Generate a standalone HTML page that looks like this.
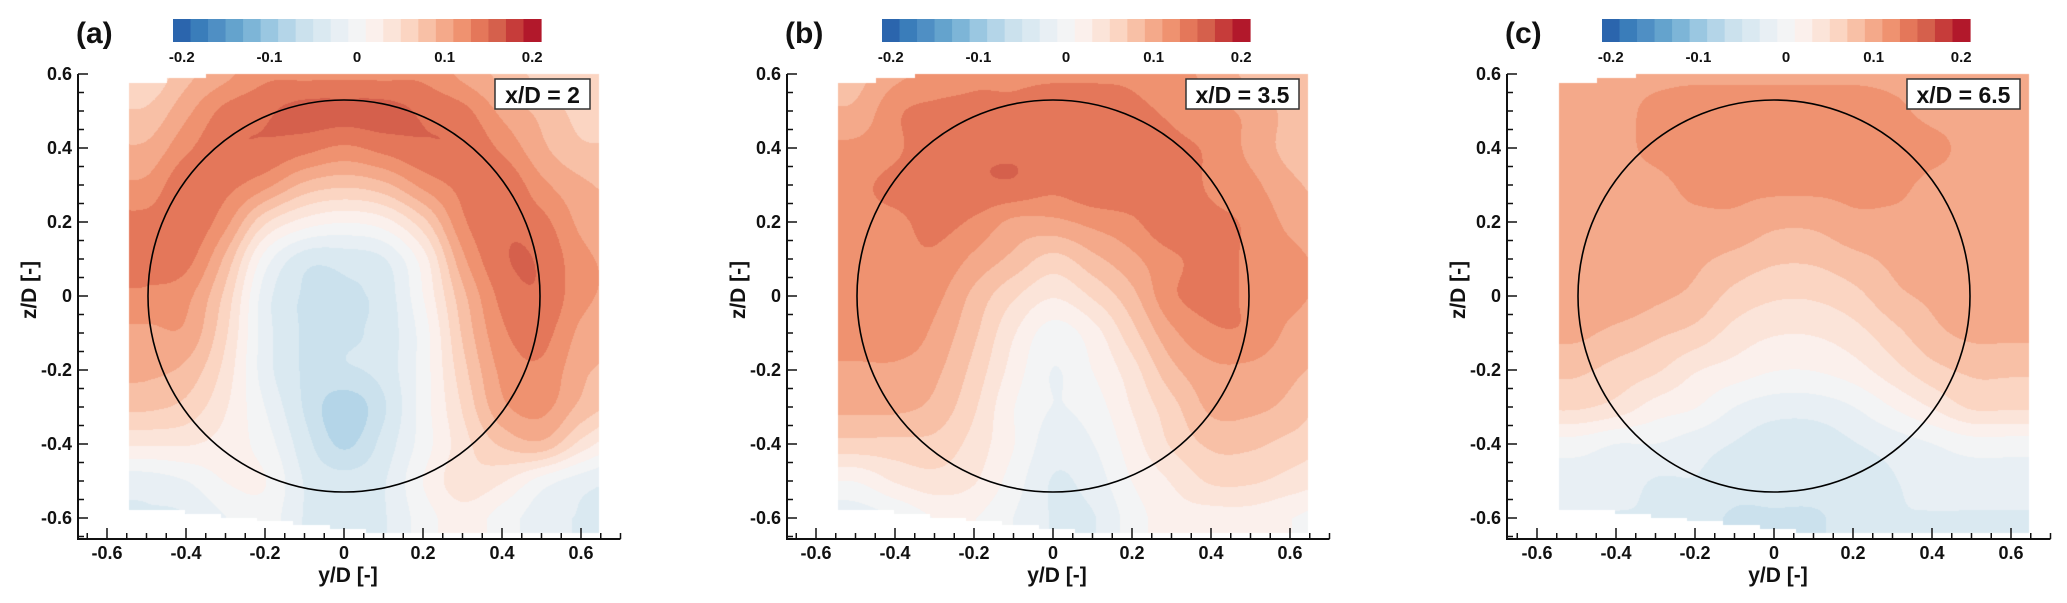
<!DOCTYPE html>
<html><head><meta charset="utf-8"><style>
html,body{margin:0;padding:0;background:#fff;}
#wrap{position:relative;width:2067px;height:603px;overflow:hidden;}
canvas,svg{position:absolute;left:0;top:0;}
text{font-family:"Liberation Sans",Arial,sans-serif;font-weight:bold;fill:#111;}
</style></head><body>
<div id="wrap">
<canvas id="cv" width="2067" height="603"></canvas>
<svg id="sv" width="2067" height="603"></svg>
</div>
<script>
// ---- data ----
const gridY = [-0.6,-0.5,-0.4,-0.3,-0.2,-0.1,0,0.1,0.2,0.3,0.4,0.5,0.6,0.7];
const gridZ = [0.6,0.5,0.4,0.3,0.2,0.1,0,-0.1,-0.2,-0.3,-0.4,-0.5,-0.6];
const panelLabels = ["(a)","(b)","(c)"];
const stationLabels = ["x/D = 2","x/D = 3.5","x/D = 6.5"];
const cbTicks = [-0.2,-0.1,0,0.1,0.2];
const cbTickLabels = ["-0.2","-0.1","0","0.1","0.2"];
const yTicks = [-0.6,-0.4,-0.2,0,0.2,0.4,0.6];
const yTickLabels = ["-0.6","-0.4","-0.2","0","0.2","0.4","0.6"];
const zTicks = [-0.6,-0.4,-0.2,0,0.2,0.4,0.6];
const zTickLabels = ["-0.6","-0.4","-0.2","0","0.2","0.4","0.6"];
const levelColors = ["#2b65ad","#3a7dba","#4f8fc4","#64a3cd","#7db5d7","#9ac7e1","#b4d5e8","#cbe1ed","#dae9f1","#e8eff4","#f3f4f5","#fbf0ec","#fbe4d9","#fbd5c2","#f8c0a6","#f4a98a","#ef9270","#e4775a","#d5604c","#c63c3a","#b2182b"];
// values x100
const fieldA = [
[5,5,8,10,12,12,12,12,12,10,8,6,5,5],
[7,7,10,13,14,15,15,15,14,13,10,8,6,6],
[9,9,12,14,14,13,12,13,14,14,12,9,7,7],
[11,11,14,13,11,8,7,8,11,13,14,11,9,8],
[13,13,14,11,5,2,1,2,6,12,14,13,10,9],
[13,13,13,8,0,-4,-4,-3,2,10,14,14,11,10],
[12,12,11,6,-2,-5,-5,-4,1,8,13,14,11,10],
[10,10,10,5,-2,-5,-5,-4,0,7,12,13,10,9],
[9,9,8,4,-2,-5,-5,-4,0,6,11,12,9,8],
[7,7,6,3,-1,-5,-8,-5,0,5,10,11,8,6],
[3,3,3,2,0,-4,-7,-4,0,4,7,8,4,1],
[-2,-2,-1,1,1,-3,-4,-3,1,4,3,0,-2,-3],
[-3,-3,-3,-1,0,-3,-4,-3,0,2,0,-2,-3,-3]];
const fieldB = [
[8,8,10,11,12,12,12,12,12,11,10,8,7,7],
[9,9,12,13,13,13,14,14,13,12,11,10,8,8],
[11,11,12,14,14,14,14,14,14,13,12,10,8,8],
[12,12,13,14,14,14,13,14,14,14,12,11,9,8],
[12,12,12,13,12,10,10,11,12,14,13,12,10,9],
[12,12,12,12,10,8,6,8,10,12,13,12,11,10],
[12,12,12,11,8,5,3,5,8,12,13,12,11,10],
[12,12,12,10,7,3,0,2,6,10,12,12,10,9],
[10,10,10,9,6,2,-1,1,4,8,10,10,9,8],
[9,9,9,8,5,1,-1,0,3,6,9,9,8,6],
[6,6,6,6,4,1,-2,-1,2,5,7,7,6,5],
[1,1,3,4,3,0,-3,-2,1,3,5,5,4,3],
[-2,-2,-1,1,1,-1,-3,-3,0,2,2,2,1,0]];
const fieldC = [
[10,10,10,10,10,10,10,10,10,10,10,10,10,10],
[10,10,10,11,12,12,12,12,12,11,10,10,10,10],
[10,10,10,11,12,12,12,12,12,12,11,10,10,10],
[10,10,10,10,11,11,11,11,11,11,10,10,10,10],
[10,10,10,10,10,10,9,9,10,10,10,10,10,10],
[10,10,10,10,9,8,7,7,8,9,10,10,10,10],
[10,10,10,9,8,6,5,5,6,8,9,10,10,10],
[9,9,8,7,6,4,3,3,4,6,8,9,9,9],
[7,7,6,5,3,2,1,1,2,4,6,7,7,7],
[5,5,4,2,1,-1,-2,-2,-1,1,3,5,5,5],
[0,0,-1,-1,-2,-3,-4,-4,-3,-2,-1,0,0,0],
[-2,-2,-2,-3,-3,-4,-4,-4,-4,-3,-2,-2,-2,-2],
[-3,-3,-3,-3,-4,-5,-5,-5,-4,-3,-3,-3,-3,-3]];
const fields = [fieldA, fieldB, fieldC];

// ---- layout ----
const axisX = [78, 787, 1507];
const zeroX = [344, 1053, 1774];
const SX = 395, SZ = 370, Z0 = 296;
function px(p,y){return zeroX[p]+y*SX;}
function py(z){return Z0 - z*SZ;}
function cr(p0,p1,p2,p3,t){return 0.5*((2*p1)+(-p0+p2)*t+(2*p0-5*p1+4*p2-p3)*t*t+(-p0+3*p1-3*p2+p3)*t*t*t);}
function g(f,i,j){i=Math.max(0,Math.min(f.length-1,i));j=Math.max(0,Math.min(f[0].length-1,j));return f[i][j];}
function val(f,y,z){
  let fj=(y-gridY[0])/0.1, fi=(gridZ[0]-z)/0.1;
  fj=Math.max(0,Math.min(gridY.length-1.0001,fj));
  fi=Math.max(0,Math.min(gridZ.length-1.0001,fi));
  const j=Math.floor(fj), i=Math.floor(fi), tx=fj-j, ty=fi-i;
  const rows=[];
  for(let k=-1;k<=2;k++){rows.push(cr(g(f,i+k,j-1),g(f,i+k,j),g(f,i+k,j+1),g(f,i+k,j+2),tx));}
  return cr(rows[0],rows[1],rows[2],rows[3],ty)/100;
}
function colorIdx(v){let k=Math.floor((v+0.2)/0.4*21);return Math.max(0,Math.min(20,k));}
function hex(h){return [parseInt(h.slice(1,3),16),parseInt(h.slice(3,5),16),parseInt(h.slice(5,7),16)];}
const rgb=levelColors.map(hex);
function topZ(y){return y<-0.45?0.576:(y<-0.35?0.59:0.6);}
function botZ(y){let t=Math.max(0,Math.min(1,(y+0.45)/0.55));t=Math.round(t*6)/6;return -0.578-0.062*t;}

const cv=document.getElementById('cv'),ctx=cv.getContext('2d');
const img=ctx.createImageData(2067,603);
for(let p=0;p<3;p++){
  const x0=Math.round(px(p,-0.545)),x1=Math.round(px(p,0.645));
  for(let X=x0;X<x1;X++){
    const y=(X-zeroX[p])/SX;
    const t=topZ(y),b=botZ(y);
    for(let Y=Math.round(py(t));Y<Math.round(py(b));Y++){
      const z=(Z0-Y)/SZ;
      const c=rgb[colorIdx(val(fields[p],y,z))];
      const o=(Y*2067+X)*4;
      img.data[o]=c[0];img.data[o+1]=c[1];img.data[o+2]=c[2];img.data[o+3]=255;
    }
  }
}
ctx.putImageData(img,0,0);

// ---- overlay ----
const NS='http://www.w3.org/2000/svg', sv=document.getElementById('sv');
function el(tag,attrs,txt){const e=document.createElementNS(NS,tag);for(const k in attrs)e.setAttribute(k,attrs[k]);if(txt!==undefined)e.textContent=txt;sv.appendChild(e);return e;}
const yBot=539, zTop=0.6;
for(let p=0;p<3;p++){
  const c=el('ellipse',{cx:zeroX[p],cy:Z0,rx:196,ry:196,fill:'none',stroke:'#000','stroke-width':1.6});
  
  
  const xr=px(p,0.7);
  const ax=el('path',{d:`M${axisX[p]},${py(zTop)} L${axisX[p]},${yBot} L${xr},${yBot}`,fill:'none',stroke:'#111','stroke-width':2});
  
  
  let d='';
  for(let k=-13;k<=12;k++){const z=k*0.05;const Y=py(z);const major=Math.abs(k%4)===0;d+=`M${axisX[p]},${Y} L${axisX[p]+(major?10:6)},${Y} `;}
  for(let k=-13;k<=14;k++){const y=k*0.05;const X=px(p,y);if(X<axisX[p])continue;const major=Math.abs(k%4)===0;d+=`M${X},${yBot} L${X},${yBot-(major?11:6)} `;}
  const tk=el('path',{d:d,stroke:'#111','stroke-width':1.5,fill:'none'});
  
  
  zTicks.forEach((z,i)=>{const t=el('text',{x:axisX[p]-6,y:py(z)+6,'text-anchor':'end','font-size':18},zTickLabels[i]);
    
    });
  yTicks.forEach((y,i)=>{const t=el('text',{x:px(p,y),y:559,'text-anchor':'middle','font-size':18},yTickLabels[i]);
    
    });
  const xt=el('text',{x:zeroX[p]+4,y:582,'text-anchor':'middle','font-size':21},'y/D [-]');
  
  
  const ytl=el('text',{x:0,y:0,'text-anchor':'middle','font-size':21,transform:`translate(${axisX[p]-42},290) rotate(-90)`},'z/D [-]');
  
  
  const pl=el('text',{x:axisX[p]-2,y:43,'font-size':30},panelLabels[p]);
  
  
  const cbx=axisX[p]+95, cbw=368, seg=cbw/21;
  levelColors.forEach((col,i)=>{const r=el('rect',{x:cbx+i*seg,y:19,width:seg+0.6,height:23,fill:col});
    
    });
  cbTicks.forEach((v,i)=>{const X=cbx+seg/2+(v+0.2)/0.4*(cbw-seg);
    const t=el('text',{x:X,y:62,'text-anchor':'middle','font-size':15},cbTickLabels[i]);
    
    });
  const bx0=zeroX[p]+(p===0?151:133), bx1=zeroX[p]+246;
  const bb=el('rect',{x:bx0,y:79,width:bx1-bx0,height:30,fill:'#fff',stroke:'#333','stroke-width':1.5});
  
  
  const st=el('text',{x:(bx0+bx1)/2,y:103,'text-anchor':'middle','font-size':23},stationLabels[p]);
  
  
}
</script>
</body></html>
